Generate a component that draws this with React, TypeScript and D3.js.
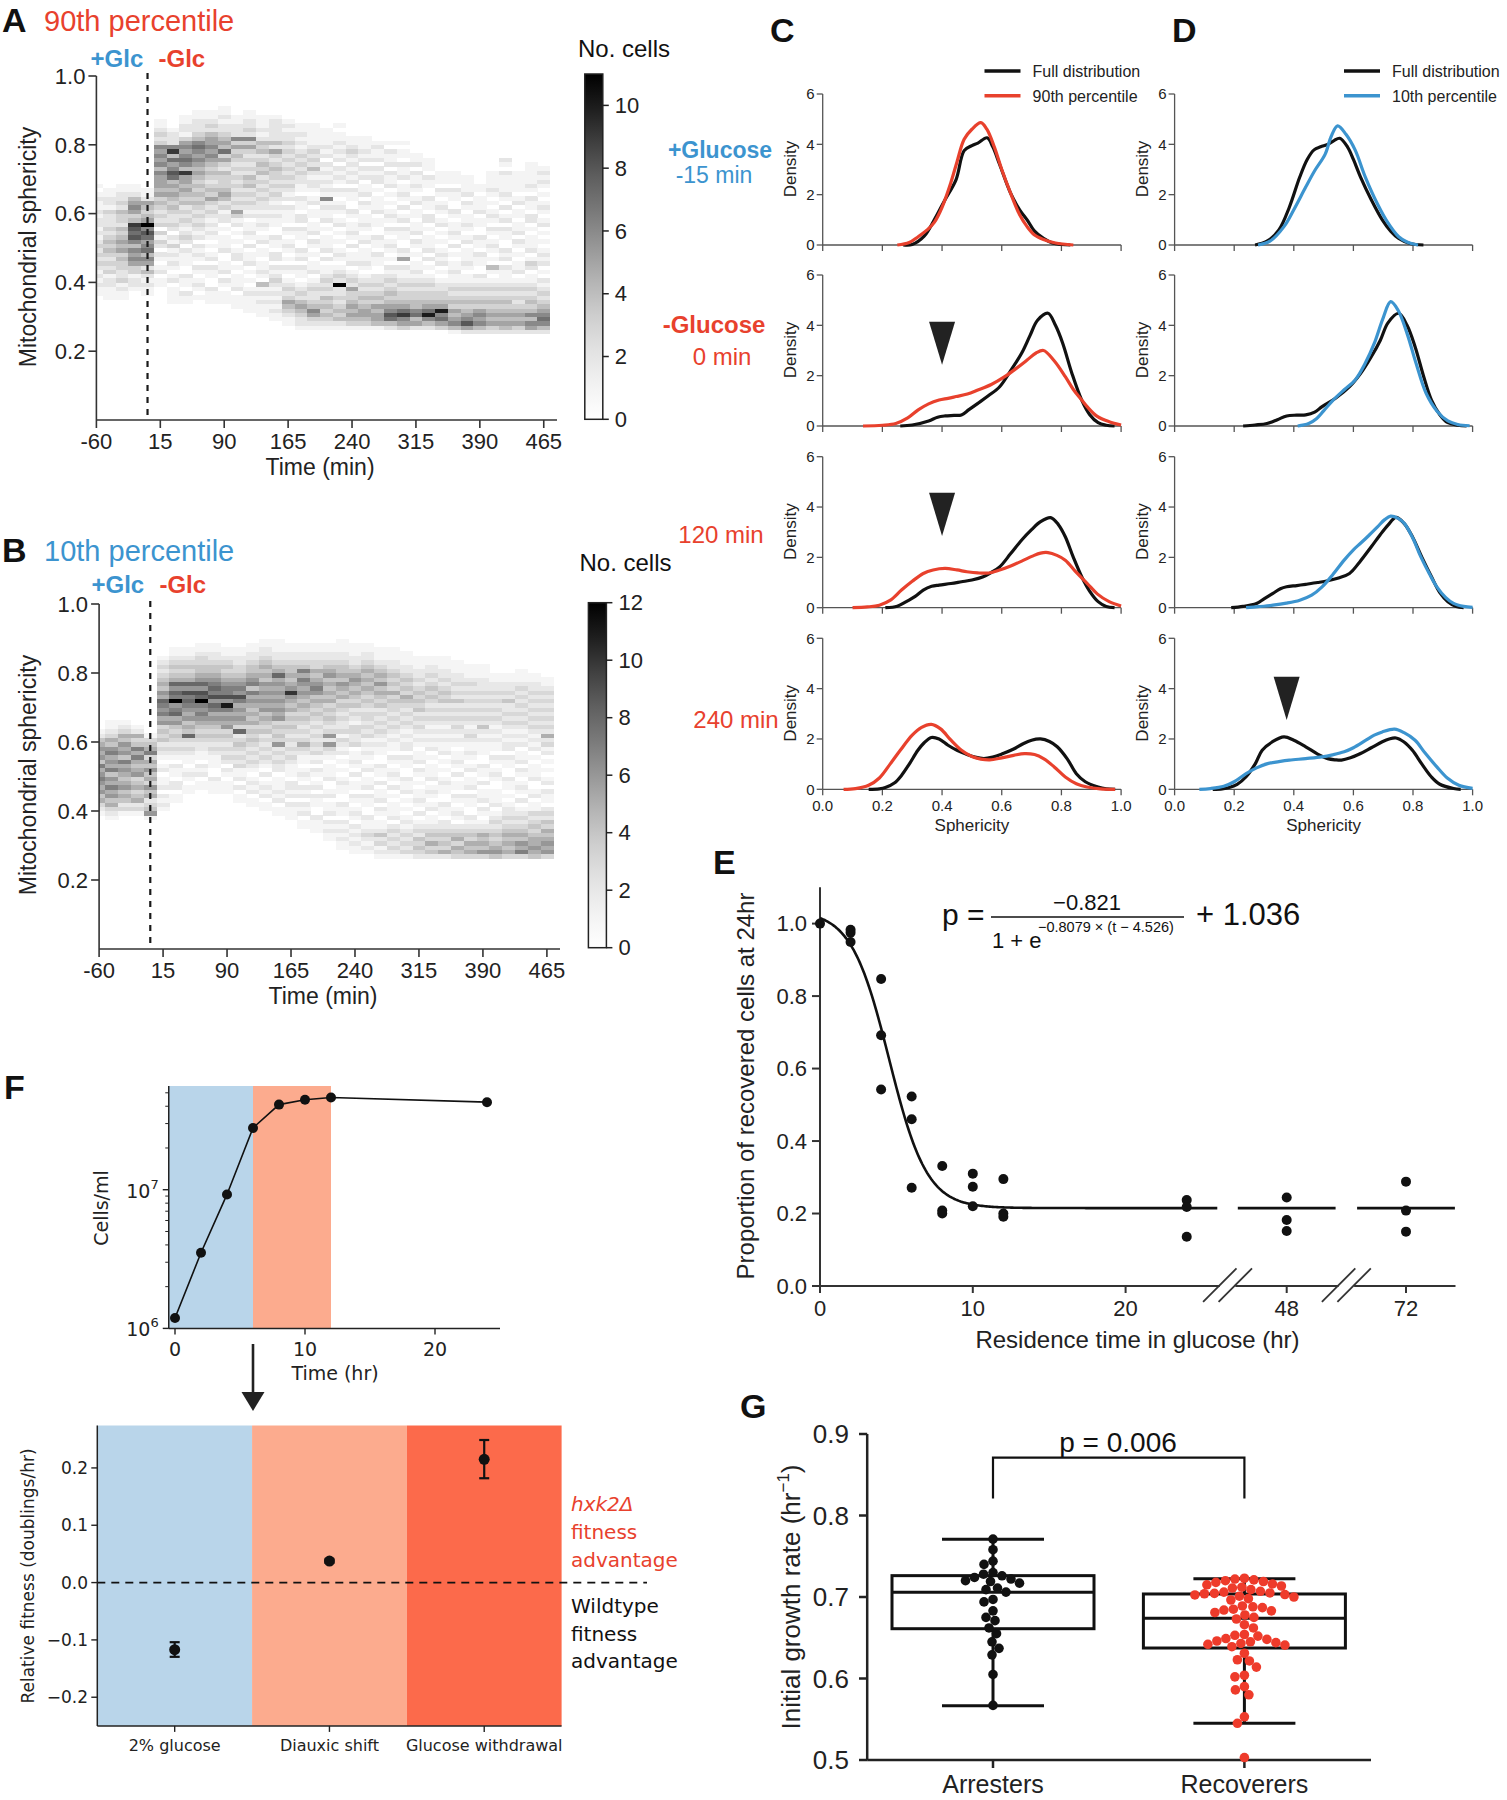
import React from "react";
import * as d3 from "d3";

const SANS = "'Liberation Sans', Arial, Helvetica, sans-serif";
const DEJAVU = "'DejaVu Sans', sans-serif";
const RED = "#e8412d";
const BLUE = "#3c94cf";
const INK = "#1a1a1a";

// ================= A / B heatmaps =================
const heatTimes = [-60, -45, -30, -15, 0, 15, 30, 45, 60, 75, 90, 105, 120, 135, 150, 165, 180, 195, 210, 225, 240, 255, 270, 285, 300, 315, 330, 345, 360, 375, 390, 405, 420, 435, 450, 465];
const heatTimeTicks = [-60, 15, 90, 165, 240, 315, 390, 465];
const heatYTicks = [0.2, 0.4, 0.6, 0.8, 1.0];
const heatRowStart = 0.25;
const heatRowStep = 0.0125;
const heatTimeStep = 15;
const heatMaxA = 11;
const heatMaxB = 12;
const cbTicksA = [0, 2, 4, 6, 8, 10];
const cbTicksB = [0, 2, 4, 6, 8, 10, 12];

// each column: counts per sphericity row (bottom 0.25 -> top), base-36 digits
const heatA = [
  "000000000 112121232 323212122 121121010",
  "000000001 112213232 343432322 231221100",
  "000000001 121322334 354543423 342322110",
  "000000000 012213356 564687894 356542110",
  "000000000 112124256 4765786b5 434521100",
  "000000000 001102101 202313032 323435455 564656563 232110000",
  "000000011 110210121 213120232 234345454 786574962 221000000",
  "000000011 201120011 120232123 232434545 594676565 312211000",
  "000000001 012101201 212021232 323434343 454565676 432221100",
  "000000011 120011202 101012121 232353432 343456565 542321100",
  "000000011 101202110 021110102 213245433 342353745 432212110",
  "000000111 021110102 210101021 352323232 323234353 622211000",
  "000001111 210101021 102012110 212323243 423232353 623221100",
  "000011121 214012110 110210121 212232323 243432434 212111000",
  "000112121 212321202 201120011 212123232 334323524 222221000",
  "001123453 232101201 012101201 112021232 323232323 221210000",
  "012234542 321011202 120011202 201120112 232323212 121100000",
  "012356432 232102110 101202110 110210122 124232321 111100000",
  "012343434 232321102 021110102 112161212 121202121 111000000",
  "012434323 22b232101 210101021 012101201 212021212 110100000",
  "013454543 352321021 102012110 120011202 121212321 100000000",
  "013455434 323210121 110210121 101202110 212021211 100000000",
  "014554534 323220011 201120011 021110102 212021121 000000000",
  "024786543 432321201 012101201 210101021 120211201 000000000",
  "035697543 323211205 120011202 102012110 211201101 000000000",
  "025476443 323212110 101202110 110210121 120211000",
  "0246a7543 323210102 021110102 201120011 201110000",
  "03576a543 322101021 210101021 012101201 110000000",
  "146545343 232112110 102012110 120011201 110000000",
  "258654343 232110121 110210121 101202111 100000000",
  "246565343 232120011 201120011 021110110",
  "235454343 232101401 012101201 210101211 110000000",
  "245454343 232111202 120011202 102012111 120120000",
  "235454323 232102110 101202110 110210111 110000000",
  "256464343 232110231 021110102 201120121 111100000",
  "246765432 321201021 210101021 012101012 121000000",
];

const heatB = [
  "000000000 001235465 676574656 542100000",
  "000000000 012354657 564756576 453211000",
  "000000000 001324546 545657465 645321000",
  "000000000 001325435 436545757 435210000",
  "000000000 016432546 354645375 431000000",
  "000000000 000121202 110210123 243436576 785645432 321000000",
  "000000000 000001102 201120123 234346587 6c7868543 432110000",
  "000000000 000000011 012101123 238454656 787968543 432110000",
  "000000000 000000001 102120112 234345676 7c8968654 433211000",
  "000000000 000000011 120011123 234345657 869787654 432211000",
  "000000000 000000011 101202323 234365657 b69776543 432110000",
  "000000000 000001102 021132323 432835656 579676543 322110000",
  "000000000 000011021 210123232 343435454 565747654 432211000",
  "000000000 000110212 102012323 232434546 565656454 543221100",
  "000000000 001102121 110223232 634343656 565656585 432211100",
  "000000000 011120212 201112323 232343435 456a65454 432211000",
  "000000001 102120212 012101123 532323434 545656757 432211000",
  "000000011 120011202 101202132 323232343 454676545 332211000",
  "000001121 202110210 021110123 626323434 354545465 432211000",
  "000112121 201120011 210101021 231322323 435456454 432211100",
  "001121212 012101201 102012110 322331232 434545654 322111000",
  "001212321 120011202 110210121 213232332 343454545 432211000",
  "012132421 101202110 201120011 212323232 434546454 321110000",
  "012323232 021110102 012101201 121232323 343534343 221110000",
  "013232321 210101021 120011202 212123232 345343432 211100000",
  "023434232 102012110 101202110 121232324 343432322 111000000",
  "024353432 110210121 021110102 121212323 234343232 211000000",
  "025343432 201120011 210101021 121212323 243432322 111000000",
  "034535432 012101201 102012110 121232323 242323221 110000000",
  "035453432 120011202 110210121 123212323 232323211 100000000",
  "036454532 101202110 201120011 121242323 232322211 100000000",
  "046543432 321021110 012101201 121212323 232322110",
  "035454543 232210101 120011202 212123232 242322110",
  "037564543 232102012 101202110 212123232 323232111",
  "045655434 323110210 021110102 121232323 232322110",
  "036565453 423201120 210101021 325232323 232321100",
];

// ================= C / D density curves =================
type Pt = [number, number];
const densXTicks = [0, 0.2, 0.4, 0.6, 0.8, 1.0];
const densYTicks = [0, 2, 4, 6];

const cPre15Full: Pt[] = [[0.27,0],[0.3,0.02],[0.34,0.35],[0.374,1.0],[0.41,1.8],[0.447,2.6],[0.474,3.75],[0.5,3.95],[0.52,4.05],[0.551,4.26],[0.57,3.9],[0.593,3.2],[0.63,2.05],[0.66,1.4],[0.685,1.0],[0.71,0.55],[0.74,0.26],[0.77,0.08],[0.8,0.02],[0.83,0]];
const cPre15Pct: Pt[] = [[0.25,0],[0.29,0.1],[0.32,0.33],[0.35,0.6],[0.374,0.9],[0.4,1.5],[0.43,2.5],[0.45,3.3],[0.474,4.2],[0.5,4.6],[0.53,4.86],[0.55,4.6],[0.575,3.9],[0.6,3.0],[0.63,2.05],[0.66,1.2],[0.685,0.73],[0.71,0.4],[0.74,0.22],[0.78,0.08],[0.84,0]];
const c0Full: Pt[] = [[0.26,0],[0.3,0.04],[0.355,0.2],[0.385,0.35],[0.41,0.4],[0.44,0.42],[0.465,0.44],[0.49,0.65],[0.52,0.9],[0.555,1.2],[0.593,1.56],[0.63,2.2],[0.667,2.9],[0.695,3.6],[0.72,4.2],[0.755,4.48],[0.78,4.0],[0.804,3.3],[0.835,2.1],[0.868,1.03],[0.895,0.45],[0.923,0.13],[0.95,0.03],[0.978,0]];
const c0Pct: Pt[] = [[0.135,0],[0.2,0.03],[0.245,0.1],[0.285,0.32],[0.32,0.64],[0.355,0.88],[0.39,1.03],[0.42,1.1],[0.447,1.17],[0.485,1.27],[0.52,1.43],[0.565,1.65],[0.61,1.96],[0.65,2.3],[0.685,2.62],[0.715,2.9],[0.74,3.0],[0.775,2.6],[0.813,1.96],[0.84,1.45],[0.868,1.03],[0.886,0.77],[0.92,0.38],[0.96,0.17],[1.0,0.04]];
const c120Full: Pt[] = [[0.21,0],[0.25,0.06],[0.28,0.24],[0.31,0.45],[0.337,0.7],[0.365,0.85],[0.39,0.9],[0.43,0.96],[0.465,1.03],[0.5,1.1],[0.538,1.23],[0.565,1.4],[0.593,1.62],[0.63,2.15],[0.667,2.69],[0.7,3.1],[0.73,3.42],[0.764,3.58],[0.79,3.3],[0.813,2.82],[0.84,2.0],[0.868,1.23],[0.895,0.65],[0.923,0.24],[0.95,0.05],[0.978,0]];
const c120Pct: Pt[] = [[0.1,0],[0.15,0.03],[0.19,0.1],[0.227,0.3],[0.264,0.7],[0.3,1.05],[0.337,1.36],[0.37,1.5],[0.41,1.56],[0.45,1.5],[0.483,1.43],[0.52,1.38],[0.557,1.38],[0.593,1.5],[0.63,1.66],[0.667,1.85],[0.703,2.05],[0.73,2.17],[0.755,2.19],[0.785,2.08],[0.813,1.89],[0.85,1.4],[0.886,0.97],[0.92,0.55],[0.96,0.24],[1.0,0.07]];
const c240Full: Pt[] = [[0.154,0],[0.19,0.02],[0.21,0.07],[0.24,0.25],[0.264,0.55],[0.29,1.0],[0.319,1.55],[0.34,1.85],[0.364,2.06],[0.39,2.0],[0.42,1.75],[0.45,1.55],[0.48,1.4],[0.51,1.28],[0.54,1.22],[0.57,1.28],[0.6,1.4],[0.64,1.6],[0.67,1.8],[0.7,1.95],[0.73,2.0],[0.76,1.9],[0.786,1.69],[0.82,1.2],[0.85,0.62],[0.88,0.3],[0.923,0.09],[0.95,0.02],[0.98,0]];
const c240Pct: Pt[] = [[0.07,0],[0.11,0.03],[0.154,0.16],[0.19,0.45],[0.227,1.02],[0.26,1.55],[0.3,2.15],[0.33,2.45],[0.364,2.58],[0.395,2.4],[0.43,1.95],[0.465,1.55],[0.5,1.3],[0.53,1.2],[0.56,1.17],[0.6,1.25],[0.64,1.35],[0.676,1.42],[0.71,1.38],[0.74,1.22],[0.775,0.9],[0.813,0.49],[0.85,0.22],[0.886,0.09],[0.93,0.02],[0.98,0]];

const dPre15Full: Pt[] = [[0.27,0],[0.31,0.15],[0.35,0.6],[0.385,1.5],[0.42,2.7],[0.445,3.4],[0.468,3.78],[0.49,3.9],[0.514,4.0],[0.535,4.15],[0.554,4.24],[0.58,3.9],[0.6,3.4],[0.624,2.7],[0.66,1.8],[0.697,1.0],[0.725,0.55],[0.752,0.26],[0.79,0.06],[0.835,0]];
const dPre15Pct: Pt[] = [[0.28,0],[0.32,0.15],[0.367,0.73],[0.4,1.4],[0.44,2.3],[0.47,2.95],[0.505,3.6],[0.525,4.3],[0.547,4.73],[0.575,4.4],[0.606,3.77],[0.64,2.7],[0.68,1.65],[0.715,0.9],[0.752,0.33],[0.78,0.12],[0.817,0]];
const d0Full: Pt[] = [[0.23,0],[0.27,0.04],[0.31,0.1],[0.345,0.25],[0.376,0.4],[0.41,0.43],[0.44,0.44],[0.47,0.55],[0.495,0.77],[0.54,1.1],[0.587,1.56],[0.625,2.1],[0.66,2.75],[0.69,3.4],[0.716,4.1],[0.752,4.48],[0.78,4.0],[0.807,3.15],[0.835,2.0],[0.862,1.03],[0.89,0.45],[0.917,0.13],[0.95,0.03],[0.98,0]];
const d0Pct: Pt[] = [[0.413,0],[0.45,0.1],[0.477,0.3],[0.5,0.6],[0.532,1.03],[0.57,1.45],[0.606,1.83],[0.64,2.5],[0.67,3.28],[0.7,4.3],[0.725,4.94],[0.75,4.6],[0.78,3.68],[0.81,2.5],[0.844,1.3],[0.88,0.6],[0.917,0.2],[0.95,0.06],[0.99,0.01]];
const d120Full: Pt[] = [[0.19,0],[0.23,0.05],[0.275,0.17],[0.3,0.35],[0.33,0.57],[0.355,0.75],[0.376,0.83],[0.41,0.88],[0.44,0.93],[0.48,1.0],[0.514,1.07],[0.55,1.18],[0.587,1.36],[0.62,1.8],[0.66,2.42],[0.69,2.9],[0.716,3.28],[0.743,3.59],[0.77,3.35],[0.798,2.82],[0.83,2.0],[0.862,1.23],[0.89,0.6],[0.917,0.24],[0.945,0.05],[0.97,0]];
const d120Pct: Pt[] = [[0.24,0],[0.28,0.04],[0.33,0.1],[0.375,0.18],[0.42,0.3],[0.46,0.5],[0.495,0.83],[0.53,1.3],[0.569,1.89],[0.6,2.3],[0.624,2.56],[0.65,2.85],[0.68,3.2],[0.705,3.5],[0.725,3.64],[0.75,3.55],[0.771,3.35],[0.8,2.75],[0.826,2.03],[0.855,1.35],[0.88,0.83],[0.91,0.4],[0.936,0.17],[0.97,0.05],[1.0,0.01]];
const d240Full: Pt[] = [[0.128,0],[0.16,0.02],[0.183,0.07],[0.21,0.2],[0.24,0.5],[0.27,1.0],[0.294,1.55],[0.33,1.9],[0.367,2.08],[0.4,1.95],[0.44,1.69],[0.48,1.4],[0.514,1.22],[0.54,1.17],[0.56,1.16],[0.59,1.25],[0.624,1.42],[0.66,1.65],[0.697,1.89],[0.72,2.0],[0.743,2.04],[0.77,1.88],[0.798,1.55],[0.83,1.0],[0.862,0.49],[0.89,0.2],[0.936,0.03],[0.96,0]];
const d240Pct: Pt[] = [[0.083,0],[0.12,0.03],[0.165,0.12],[0.2,0.3],[0.24,0.62],[0.275,0.85],[0.312,1.02],[0.35,1.1],[0.385,1.16],[0.44,1.22],[0.495,1.29],[0.53,1.37],[0.569,1.49],[0.6,1.65],[0.642,1.95],[0.67,2.15],[0.697,2.28],[0.738,2.39],[0.77,2.25],[0.807,1.95],[0.84,1.45],[0.88,0.89],[0.915,0.45],[0.954,0.16],[1.0,0.04]];

// arrowheads: row index, sphericity, top density, tip density
const arrowsC = [{ row: 1, s: 0.4, top: 4.14, tip: 2.43 }, { row: 2, s: 0.4, top: 4.57, tip: 2.85 }];
const arrowsD = [{ row: 3, s: 0.376, top: 4.47, tip: 2.75 }];

// ================= E =================
const eTimes = [0, 2, 2, 2, 4, 4, 4, 6, 6, 6, 8, 8, 8, 10, 10, 10, 12, 12, 12, 24, 24, 24];
const eProps = [1.0, 0.983, 0.975, 0.949, 0.847, 0.692, 0.542, 0.523, 0.46, 0.271, 0.331, 0.208, 0.2, 0.31, 0.274, 0.22, 0.295, 0.2, 0.191, 0.237, 0.218, 0.136];
const e48Props = [0.244, 0.182, 0.152];
const e72Props = [0.288, 0.208, 0.15];
const eYTicks = [0, 0.2, 0.4, 0.6, 0.8, 1.0];
const eXTicks = [0, 10, 20];
const fitAmp = -0.821;
const fitRate = 0.8079;
const fitMid = 4.526;
const fitBase = 1.036;

// ================= F =================
const fTimes = [0, 2, 4, 6, 8, 10, 12, 24];
const fCells = [1.19e6, 3.51e6, 9.25e6, 2.79e7, 4.11e7, 4.45e7, 4.63e7, 4.28e7];
const fXTicks = [0, 10, 20];
const fPhaseBounds = [0, 6, 12];
const fitCats = ["2% glucose", "Diauxic shift", "Glucose withdrawal"];
const fitMeans = [-0.117, 0.0375, 0.215];
const fitLow = [-0.1295, 0.0345, 0.182];
const fitHigh = [-0.104, 0.0405, 0.2487];
const fitYTicks = [-0.2, -0.1, 0.0, 0.1, 0.2];

// ================= G =================
const gGroups = ["Arresters", "Recoverers"];
const arresterRates = [0.771, 0.758, 0.744, 0.74, 0.73, 0.728, 0.726, 0.724, 0.722, 0.72, 0.719, 0.717, 0.711, 0.709, 0.706, 0.697, 0.694, 0.683, 0.675, 0.671, 0.662, 0.655, 0.645, 0.637, 0.629, 0.605, 0.567];
const recovererRates = [0.723, 0.722, 0.721, 0.72, 0.719, 0.718, 0.716, 0.715, 0.7135, 0.712, 0.711, 0.709, 0.707, 0.706, 0.705, 0.7045, 0.704, 0.703, 0.7025, 0.701, 0.7, 0.698, 0.6963, 0.689, 0.688, 0.687, 0.685, 0.684, 0.683, 0.681, 0.678, 0.675, 0.673, 0.666, 0.662, 0.654, 0.653, 0.652, 0.649, 0.648, 0.646, 0.645, 0.644, 0.643, 0.642, 0.641, 0.639, 0.631, 0.623, 0.6215, 0.614, 0.604, 0.602, 0.59, 0.586, 0.58, 0.553, 0.545, 0.503];
// [lower whisker, Q1, median, Q3, upper whisker]
const arresterBox = [0.5667, 0.6611, 0.7057, 0.7262, 0.7708];
const recovererBox = [0.545, 0.6374, 0.6738, 0.7037, 0.7225];
const gYTicks = [0.5, 0.6, 0.7, 0.8, 0.9];

// ================= helpers =================
const parseCol = (s: string) =>
  s.replace(/\s+/g, "").padEnd(54, "0").slice(0, 54).split("").map((ch) => parseInt(ch, 36));

function swarm(values: number[], y: (v: number) => number, r: number) {
  const placed: { x: number; y: number }[] = [];
  const sorted = [...values].sort((a, b) => b - a);
  for (const v of sorted) {
    const py = y(v);
    let best = 0;
    for (let k = 0; k < 400; k++) {
      const off = (k % 2 === 0 ? 1 : -1) * Math.ceil(k / 2) * 0.5;
      if (placed.every((p) => (p.x - off) ** 2 + (p.y - py) ** 2 >= (2 * r) ** 2 * 0.92)) {
        best = off;
        break;
      }
    }
    placed.push({ x: best, y: py });
  }
  return placed;
}

// ================= Panels =================
type HeatProps = {
  data: string[]; max: number; cbTicks: number[];
  xl: number; xr: number; yb: number; yt: number; axisEnd: number;
  cbX: number; cbTop: number; cbBottom: number;
  letter: string; title: string; titleColor: string; titleBase: number;
  glcBase: number; glcX: number; mglcX: number; ncX: number; ncBase: number;
  labelCY: number; gradId: string;
};

function HeatPanel(p: HeatProps) {
  const xs = d3.scaleLinear().domain([-60, 465]).range([p.xl, p.xr]);
  const ys = d3.scaleLinear().domain([0, 1]).range([p.yb, p.yt]);
  const cb = d3.scaleLinear().domain([0, p.max]).range([p.cbBottom, p.cbTop]);
  const cells: React.ReactNode[] = [];
  p.data.forEach((s, i) => {
    const t = heatTimes[i];
    const x0 = xs(Math.max(t - heatTimeStep / 2, -60));
    const x1 = xs(t + heatTimeStep / 2);
    parseCol(s).forEach((c, r) => {
      if (!(c > 0)) return;
      const v0 = heatRowStart + r * heatRowStep;
      const y0 = ys(v0 + heatRowStep);
      const y1 = ys(v0);
      cells.push(
        <rect key={`${i}-${r}`} x={x0} y={y0} width={x1 - x0 + 0.3} height={y1 - y0 + 0.3}
          fill={d3.interpolateGreys(Math.min(1, c / p.max))} />
      );
    });
  });
  const stops = d3.range(0, 1.0001, 0.1);
  const cbW = 18;
  return (
    <g>
      <defs>
        <linearGradient id={p.gradId} x1="0" y1="1" x2="0" y2="0">
          {stops.map((s) => (
            <stop key={s} offset={s} stopColor={d3.interpolateGreys(s)} />
          ))}
        </linearGradient>
      </defs>
      <g shapeRendering="crispEdges">{cells}</g>
      <line x1={xs(0)} x2={xs(0)} y1={p.yt - 3} y2={p.yb} stroke={INK} strokeWidth={2.2} strokeDasharray="6,6" />
      <line x1={p.xl} x2={p.xl} y1={p.yt} y2={p.yb} stroke="#333" strokeWidth={1.6} />
      <line x1={p.xl} x2={p.axisEnd} y1={p.yb} y2={p.yb} stroke="#333" strokeWidth={1.6} />
      {heatYTicks.map((v) => (
        <g key={v}>
          <line x1={p.xl - 8} x2={p.xl} y1={ys(v)} y2={ys(v)} stroke="#333" strokeWidth={1.6} />
          <text x={p.xl - 11} y={ys(v)} dy="0.35em" textAnchor="end" fontSize={22} fill="#222">{v.toFixed(1)}</text>
        </g>
      ))}
      {heatTimeTicks.map((t) => (
        <g key={t}>
          <line x1={xs(t)} x2={xs(t)} y1={p.yb} y2={p.yb + 8} stroke="#333" strokeWidth={1.6} />
          <text x={xs(t)} y={p.yb + 29} textAnchor="middle" fontSize={22} fill="#222">{t}</text>
        </g>
      ))}
      <text x={(p.xl + p.xr) / 2} y={p.yb + 55} textAnchor="middle" fontSize={23} fill="#222">Time (min)</text>
      <text transform={`translate(36,${p.labelCY}) rotate(-90)`} textAnchor="middle" fontSize={23} fill="#222">Mitochondrial sphericity</text>
      <rect x={p.cbX} y={p.cbTop} width={cbW} height={p.cbBottom - p.cbTop} fill={`url(#${p.gradId})`} stroke="#222" strokeWidth={1.5} />
      {p.cbTicks.map((v) => (
        <g key={v}>
          <line x1={p.cbX + cbW} x2={p.cbX + cbW + 6} y1={cb(v)} y2={cb(v)} stroke="#222" strokeWidth={1.5} />
          <text x={p.cbX + cbW + 12} y={cb(v)} dy="0.35em" fontSize={22} fill="#222">{v}</text>
        </g>
      ))}
      <text x={p.ncX} y={p.ncBase} fontSize={24} fill="#111">No. cells</text>
      <text x={2} y={p.titleBase + 1} fontSize={34} fontWeight="bold" fill="#111">{p.letter}</text>
      <text x={44} y={p.titleBase} fontSize={29} fill={p.titleColor}>{p.title}</text>
      <text x={p.glcX} y={p.glcBase} fontSize={24} fontWeight="bold" fill={BLUE}>+Glc</text>
      <text x={p.mglcX} y={p.glcBase} fontSize={24} fontWeight="bold" fill={RED}>-Glc</text>
    </g>
  );
}

const densRowTops = [94, 275, 456.7, 638.3];
const densRowH = 151;

function DensityColumn({ xl, xr, rows, color, arrows, legendLine, legendText, pctLabel }: {
  xl: number; xr: number; rows: { full: Pt[]; pct: Pt[] }[]; color: string;
  arrows: { row: number; s: number; top: number; tip: number }[];
  legendLine: number; legendText: number; pctLabel: string;
}) {
  const xs = d3.scaleLinear().domain([0, 1]).range([xl, xr]);
  const axisCol = "#555";
  return (
    <g>
      {rows.map((row, k) => {
        const top = densRowTops[k];
        const ys = d3.scaleLinear().domain([0, 6]).range([top + densRowH, top]);
        const line = d3.line<Pt>().x((d) => xs(d[0])).y((d) => ys(d[1])).curve(d3.curveCatmullRom.alpha(0.5));
        const last = k === rows.length - 1;
        return (
          <g key={k}>
            <line x1={xl} x2={xl} y1={top} y2={top + densRowH} stroke={axisCol} strokeWidth={1.3} />
            <line x1={xl} x2={xr} y1={top + densRowH} y2={top + densRowH} stroke={axisCol} strokeWidth={1.3} />
            {densYTicks.map((v) => (
              <g key={v}>
                <line x1={xl - 6} x2={xl} y1={ys(v)} y2={ys(v)} stroke={axisCol} strokeWidth={1.3} />
                <text x={xl - 8} y={ys(v)} dy="0.35em" textAnchor="end" fontSize={15} fill="#222">{v}</text>
              </g>
            ))}
            {densXTicks.map((v) => (
              <g key={v}>
                <line x1={xs(v)} x2={xs(v)} y1={top + densRowH} y2={top + densRowH + 6} stroke={axisCol} strokeWidth={1.3} />
                {last && (
                  <text x={xs(v)} y={top + densRowH + 22} textAnchor="middle" fontSize={15} fill="#222">{v.toFixed(1)}</text>
                )}
              </g>
            ))}
            <text transform={`translate(${xl - 27},${top + 75}) rotate(-90)`} textAnchor="middle" fontSize={17} fill="#222">Density</text>
            <path d={line(row.full) || ""} fill="none" stroke="#111" strokeWidth={3.2} />
            <path d={line(row.pct) || ""} fill="none" stroke={color} strokeWidth={3.2} />
            {arrows.filter((a) => a.row === k).map((a, j) => (
              <polygon key={j} points={`${xs(a.s) - 13},${ys(a.top)} ${xs(a.s) + 13},${ys(a.top)} ${xs(a.s)},${ys(a.tip)}`} fill="#222" />
            ))}
          </g>
        );
      })}
      <text x={(xl + xr) / 2} y={densRowTops[3] + densRowH + 42} textAnchor="middle" fontSize={17} fill="#222">Sphericity</text>
      <line x1={legendLine} x2={legendLine + 36} y1={71} y2={71} stroke="#111" strokeWidth={3.5} />
      <line x1={legendLine} x2={legendLine + 36} y1={95.7} y2={95.7} stroke={color} strokeWidth={3.5} />
      <text x={legendText} y={77} fontSize={16} fill="#222">Full distribution</text>
      <text x={legendText} y={101.5} fontSize={16} fill="#222">{pctLabel}</text>
    </g>
  );
}

function PanelE() {
  const y = d3.scaleLinear().domain([0, 1.1]).range([1286, 1286 - 1.1 * 362.4]);
  const pxPerHr = 15.28;
  const xMain = d3.scaleLinear().domain([0, 26]).range([820, 820 + 26 * pxPerHr]);
  const x48 = d3.scaleLinear().domain([48 - 3.2, 48 + 3.2]).range([1286.7 - 3.2 * pxPerHr, 1286.7 + 3.2 * pxPerHr]);
  const x72 = d3.scaleLinear().domain([72 - 3.2, 72 + 3.2]).range([1406 - 3.2 * pxPerHr, 1406 + 3.2 * pxPerHr]);
  const fit = (t: number) => fitAmp / (1 + Math.exp(-fitRate * (t - fitMid))) + fitBase;
  const fitTs = d3.range(0, 26.001, 0.1);
  const fitLine = d3.line<number>().x((t) => xMain(t)).y((t) => y(fit(t)));
  const plateau = fit(1000);
  const axY = y(0);
  const b1 = (xMain(26) + x48(44.8)) / 2;
  const b2 = (x48(51.2) + x72(68.8)) / 2;
  const gap = 7.75;
  const slash = (cx: number, k: string) => (
    <line key={k} x1={cx - 16.7} y1={axY + 15.8} x2={cx + 16.7} y2={axY - 17.6} stroke="#333" strokeWidth={1.8} />
  );
  const c = "#333";
  return (
    <g>
      <text x={713} y={874} fontSize={34} fontWeight="bold" fill="#111">E</text>
      <line x1={820} x2={820} y1={y(1.1)} y2={axY} stroke={c} strokeWidth={2} />
      <line x1={820} x2={b1 - gap} y1={axY} y2={axY} stroke={c} strokeWidth={2} />
      <line x1={b1 + gap} x2={b2 - gap} y1={axY} y2={axY} stroke={c} strokeWidth={2} />
      <line x1={b2 + gap} x2={1455.5} y1={axY} y2={axY} stroke={c} strokeWidth={2} />
      {slash(b1 - gap, "s1")}{slash(b1 + gap, "s2")}{slash(b2 - gap, "s3")}{slash(b2 + gap, "s4")}
      {eYTicks.map((v) => (
        <g key={v}>
          <line x1={812} x2={820} y1={y(v)} y2={y(v)} stroke={c} strokeWidth={2} />
          <text x={807} y={y(v)} dy="0.35em" textAnchor="end" fontSize={22} fill="#222">{v.toFixed(1)}</text>
        </g>
      ))}
      {[...eXTicks.map((t) => ({ t, x: xMain(t) })), { t: 48, x: x48(48) }, { t: 72, x: x72(72) }].map((d) => (
        <g key={d.t}>
          <line x1={d.x} x2={d.x} y1={axY} y2={axY + 7} stroke={c} strokeWidth={2} />
          <text x={d.x} y={axY + 30} textAnchor="middle" fontSize={22} fill="#222">{d.t}</text>
        </g>
      ))}
      <text x={1137.5} y={1348} textAnchor="middle" fontSize={24} fill="#222">Residence time in glucose (hr)</text>
      <text transform="translate(754,1086) rotate(-90)" textAnchor="middle" fontSize={24} fill="#222">Proportion of recovered cells at 24hr</text>
      <path d={fitLine(fitTs) || ""} fill="none" stroke="#111" strokeWidth={2.6} />
      <line x1={x48(44.8)} x2={x48(51.2)} y1={y(plateau)} y2={y(plateau)} stroke="#111" strokeWidth={2.6} />
      <line x1={x72(68.8)} x2={x72(75.2)} y1={y(plateau)} y2={y(plateau)} stroke="#111" strokeWidth={2.6} />
      {eTimes.map((t, i) => (
        <circle key={i} cx={xMain(t)} cy={y(eProps[i])} r={5} fill="#111" />
      ))}
      {e48Props.map((v, i) => <circle key={`a${i}`} cx={x48(48)} cy={y(v)} r={5} fill="#111" />)}
      {e72Props.map((v, i) => <circle key={`b${i}`} cx={x72(72)} cy={y(v)} r={5} fill="#111" />)}
      <text x={942} y={925} fontSize={30} fill="#111">p =</text>
      <text x={1087} y={910} textAnchor="middle" fontSize={22} fill="#111">−0.821</text>
      <line x1={991} x2={1184} y1={917} y2={917} stroke="#111" strokeWidth={1.6} />
      <text x={992} y={947.5} fontSize={22} fill="#111">1 + e</text>
      <text x={1038} y={931.5} fontSize={14.5} fill="#111">−0.8079 × (t − 4.526)</text>
      <text x={1196} y={925} fontSize={31} fill="#111">+ 1.036</text>
    </g>
  );
}

function PanelF() {
  const x = d3.scaleLinear().domain([0, 10]).range([175, 305]);
  const y = d3.scaleLog().domain([1e6, Math.pow(10, 7.748)]).range([1328.4, 1086]);
  const xLeft = 168.75;
  const phaseColors = ["#b9d5ea", "#fcab8e"];
  const line = d3.line<number>().x((_, i) => x(fTimes[i])).y((v) => y(v));
  const minor = y.ticks().filter((v) => Math.abs(Math.log10(v) - Math.round(Math.log10(v))) > 1e-6);
  const major = [1e6, 1e7];
  const xb = d3.scaleBand<string>().domain(fitCats).range([97.3, 561.6]).padding(0);
  const yb = d3.scaleLinear().domain([-0.25, 0.274]).range([1725.9, 1425.5]);
  const bandColors = ["#b9d5ea", "#fcab8e", "#fc6a4b"];
  const fmt = (v: number) => (v < 0 ? "−" : "") + Math.abs(v).toFixed(1);
  return (
    <g fontFamily={DEJAVU}>
      <text x={4} y={1099} fontSize={34} fontWeight="bold" fill="#111" fontFamily={SANS}>F</text>
      {fPhaseBounds.slice(0, -1).map((b, i) => (
        <rect key={i} x={i === 0 ? xLeft : x(b)} y={1086} width={x(fPhaseBounds[i + 1]) - (i === 0 ? xLeft : x(b))} height={1328.4 - 1086} fill={phaseColors[i]} />
      ))}
      <line x1={xLeft} x2={xLeft} y1={1086} y2={1328.4} stroke="#222" strokeWidth={1.5} />
      <line x1={xLeft} x2={500} y1={1328.4} y2={1328.4} stroke="#222" strokeWidth={1.5} />
      {minor.map((v) => (
        <line key={v} x1={xLeft - 3.5} x2={xLeft} y1={y(v)} y2={y(v)} stroke="#222" strokeWidth={1} />
      ))}
      {major.map((v) => (
        <g key={v}>
          <line x1={xLeft - 6} x2={xLeft} y1={y(v)} y2={y(v)} stroke="#222" strokeWidth={1.4} />
          <text x={xLeft - 10} y={y(v) + 8} textAnchor="end" fontSize={19} fill="#222">
            10<tspan dy={-9} fontSize={13}>{Math.round(Math.log10(v))}</tspan>
          </text>
        </g>
      ))}
      {fXTicks.map((t) => (
        <g key={t}>
          <line x1={x(t)} x2={x(t)} y1={1328.4} y2={1334.4} stroke="#222" strokeWidth={1.4} />
          <text x={x(t)} y={1356} textAnchor="middle" fontSize={19} fill="#222">{t}</text>
        </g>
      ))}
      <text x={335} y={1380} textAnchor="middle" fontSize={19} fill="#222">Time (hr)</text>
      <text transform="translate(108,1208) rotate(-90)" textAnchor="middle" fontSize={19} fill="#222">Cells/ml</text>
      <path d={line(fCells) || ""} fill="none" stroke="#111" strokeWidth={1.6} />
      {fCells.map((v, i) => <circle key={i} cx={x(fTimes[i])} cy={y(v)} r={5} fill="#111" />)}
      <line x1={x(6)} x2={x(6)} y1={1344} y2={1394} stroke="#222" strokeWidth={2.6} />
      <polygon points={`${x(6) - 11.5},${1392} ${x(6) + 11.5},${1392} ${x(6)},${1411}`} fill="#222" />
      {fitCats.map((c, i) => (
        <rect key={c} x={xb(c)} y={1425.5} width={xb.bandwidth()} height={1725.9 - 1425.5} fill={bandColors[i]} />
      ))}
      <line x1={97.3} x2={647} y1={yb(0)} y2={yb(0)} stroke="#111" strokeWidth={1.6} strokeDasharray="8,6" />
      <line x1={97.3} x2={97.3} y1={1425.5} y2={1725.9} stroke="#222" strokeWidth={1.5} />
      <line x1={97.3} x2={561.6} y1={1725.9} y2={1725.9} stroke="#222" strokeWidth={1.5} />
      {fitYTicks.map((v) => (
        <g key={v}>
          <line x1={91.3} x2={97.3} y1={yb(v)} y2={yb(v)} stroke="#222" strokeWidth={1.4} />
          <text x={88} y={yb(v)} dy="0.35em" textAnchor="end" fontSize={17} fill="#222">{fmt(v)}</text>
        </g>
      ))}
      {fitCats.map((c) => {
        const cx = (xb(c) || 0) + xb.bandwidth() / 2;
        return (
          <g key={c}>
            <line x1={cx} x2={cx} y1={1725.9} y2={1731.9} stroke="#222" strokeWidth={1.4} />
            <text x={cx} y={1751} textAnchor="middle" fontSize={16} fill="#222">{c}</text>
          </g>
        );
      })}
      {fitCats.map((c, i) => {
        const cx = (xb(c) || 0) + xb.bandwidth() / 2;
        return (
          <g key={c}>
            <line x1={cx} x2={cx} y1={yb(fitLow[i])} y2={yb(fitHigh[i])} stroke="#111" strokeWidth={2.2} />
            <line x1={cx - 5} x2={cx + 5} y1={yb(fitLow[i])} y2={yb(fitLow[i])} stroke="#111" strokeWidth={2.2} />
            <line x1={cx - 5} x2={cx + 5} y1={yb(fitHigh[i])} y2={yb(fitHigh[i])} stroke="#111" strokeWidth={2.2} />
            <circle cx={cx} cy={yb(fitMeans[i])} r={5.5} fill="#111" />
          </g>
        );
      })}
      <text transform="translate(34,1576) rotate(-90)" textAnchor="middle" fontSize={17} fill="#222">Relative fitness (doublings/hr)</text>
      <text x={571} y={1510.6} fontSize={20} fill={RED} fontStyle="italic">hxk2Δ</text>
      <text x={571} y={1538.8} fontSize={20} fill={RED}>fitness</text>
      <text x={571} y={1566.6} fontSize={20} fill={RED}>advantage</text>
      <text x={571} y={1613.4} fontSize={20} fill="#111">Wildtype</text>
      <text x={571} y={1640.7} fontSize={20} fill="#111">fitness</text>
      <text x={571} y={1668.4} fontSize={20} fill="#111">advantage</text>
    </g>
  );
}

function PanelG() {
  const y = d3.scaleLinear().domain([0.5, 0.9]).range([1760, 1434]);
  const x = d3.scalePoint<string>().domain(gGroups).range([993, 1244.4]);
  const boxes = [arresterBox, recovererBox];
  const pts = [arresterRates, recovererRates];
  const colors = ["#111", "#ee3b2b"];
  const r = 4.8;
  const ax = "#222";
  const bx1 = x(gGroups[0]) || 0;
  const bx2 = x(gGroups[1]) || 0;
  return (
    <g>
      <text x={740} y={1418} fontSize={34} fontWeight="bold" fill="#111">G</text>
      <line x1={867.2} x2={867.2} y1={1434} y2={1760} stroke={ax} strokeWidth={2.5} />
      <line x1={867.2} x2={1371} y1={1760} y2={1760} stroke={ax} strokeWidth={2.5} />
      {gYTicks.map((v) => (
        <g key={v}>
          <line x1={859} x2={867.2} y1={y(v)} y2={y(v)} stroke={ax} strokeWidth={2.5} />
          <text x={849} y={y(v)} dy="0.35em" textAnchor="end" fontSize={26} fill="#222">{v.toFixed(1)}</text>
        </g>
      ))}
      {gGroups.map((g) => (
        <g key={g}>
          <line x1={x(g)} x2={x(g)} y1={1760} y2={1768} stroke={ax} strokeWidth={2.5} />
          <text x={x(g)} y={1792.5} textAnchor="middle" fontSize={25} fill="#222">{g}</text>
        </g>
      ))}
      <text transform="translate(800,1597) rotate(-90)" textAnchor="middle" fontSize={26} fill="#222">
        Initial growth rate (hr<tspan dy={-11} fontSize={17}>−1</tspan><tspan dy={11}>)</tspan>
      </text>
      {boxes.map((b, i) => {
        const cx = x(gGroups[i]) || 0;
        return (
          <g key={i} stroke="#111" strokeWidth={3} fill="none">
            <line x1={cx} x2={cx} y1={y(b[0])} y2={y(b[1])} />
            <line x1={cx} x2={cx} y1={y(b[3])} y2={y(b[4])} />
            <line x1={cx - 51} x2={cx + 51} y1={y(b[0])} y2={y(b[0])} />
            <line x1={cx - 51} x2={cx + 51} y1={y(b[4])} y2={y(b[4])} />
            <rect x={cx - 101} y={y(b[3])} width={202} height={y(b[1]) - y(b[3])} fill="#fff" />
            <line x1={cx - 101} x2={cx + 101} y1={y(b[2])} y2={y(b[2])} />
          </g>
        );
      })}
      {pts.map((vals, i) => {
        const cx = x(gGroups[i]) || 0;
        return swarm(vals, y, r).map((p, j) => (
          <circle key={`${i}-${j}`} cx={cx + p.x} cy={p.y} r={r} fill={colors[i]} />
        ));
      })}
      <path d={`M${bx1},${y(0.821)} V${y(0.871)} H${bx2} V${y(0.821)}`} fill="none" stroke="#111" strokeWidth={2.2} />
      <text x={1118} y={1452} textAnchor="middle" fontSize={28} fill="#111">p = 0.006</text>
    </g>
  );
}

export default function App() {
  return (
    <div style={{ position: "absolute", left: 0, top: 0 }}>
      <svg width={1507} height={1800} style={{ display: "block", background: "#fff" }} fontFamily={SANS}>
        <rect width={1507} height={1800} fill="#fff" />
        <HeatPanel data={heatA} max={heatMaxA} cbTicks={cbTicksA}
          xl={96.4} xr={543.75} yb={420} yt={76} axisEnd={557}
          cbX={584.8} cbTop={74} cbBottom={419.3}
          letter="A" title="90th percentile" titleColor={RED} titleBase={31}
          glcBase={66.7} glcX={90.6} mglcX={158.5} ncX={578} ncBase={57} labelCY={247} gradId="gA" />
        <HeatPanel data={heatB} max={heatMaxB} cbTicks={cbTicksB}
          xl={99.1} xr={546.9} yb={949} yt={604} axisEnd={560}
          cbX={588.4} cbTop={602.7} cbBottom={947.7}
          letter="B" title="10th percentile" titleColor={BLUE} titleBase={560.5}
          glcBase={592.7} glcX={91.5} mglcX={159.4} ncX={579.5} ncBase={571} labelCY={775} gradId="gB" />

        <text x={770} y={42} fontSize={34} fontWeight="bold" fill="#111">C</text>
        <text x={1172} y={42} fontSize={34} fontWeight="bold" fill="#111">D</text>
        <DensityColumn xl={822.7} xr={1121.1} color={RED} arrows={arrowsC} legendLine={984.5} legendText={1032.6} pctLabel="90th percentile"
          rows={[{ full: cPre15Full, pct: cPre15Pct }, { full: c0Full, pct: c0Pct }, { full: c120Full, pct: c120Pct }, { full: c240Full, pct: c240Pct }]} />
        <DensityColumn xl={1174.6} xr={1472.6} color={BLUE} arrows={arrowsD} legendLine={1344} legendText={1392} pctLabel="10th percentile"
          rows={[{ full: dPre15Full, pct: dPre15Pct }, { full: d0Full, pct: d0Pct }, { full: d120Full, pct: d120Pct }, { full: d240Full, pct: d240Pct }]} />
        <text x={720} y={158} textAnchor="middle" fontSize={23} fontWeight="bold" fill={BLUE}>+Glucose</text>
        <text x={714} y={183} textAnchor="middle" fontSize={23} fill={BLUE}>-15 min</text>
        <text x={714} y={333} textAnchor="middle" fontSize={24} fontWeight="bold" fill={RED}>-Glucose</text>
        <text x={722} y={365} textAnchor="middle" fontSize={24} fill={RED}>0 min</text>
        <text x={721} y={543} textAnchor="middle" fontSize={24} fill={RED}>120 min</text>
        <text x={736} y={728} textAnchor="middle" fontSize={24} fill={RED}>240 min</text>

        <PanelE />
        <PanelF />
        <PanelG />
      </svg>
    </div>
  );
}
